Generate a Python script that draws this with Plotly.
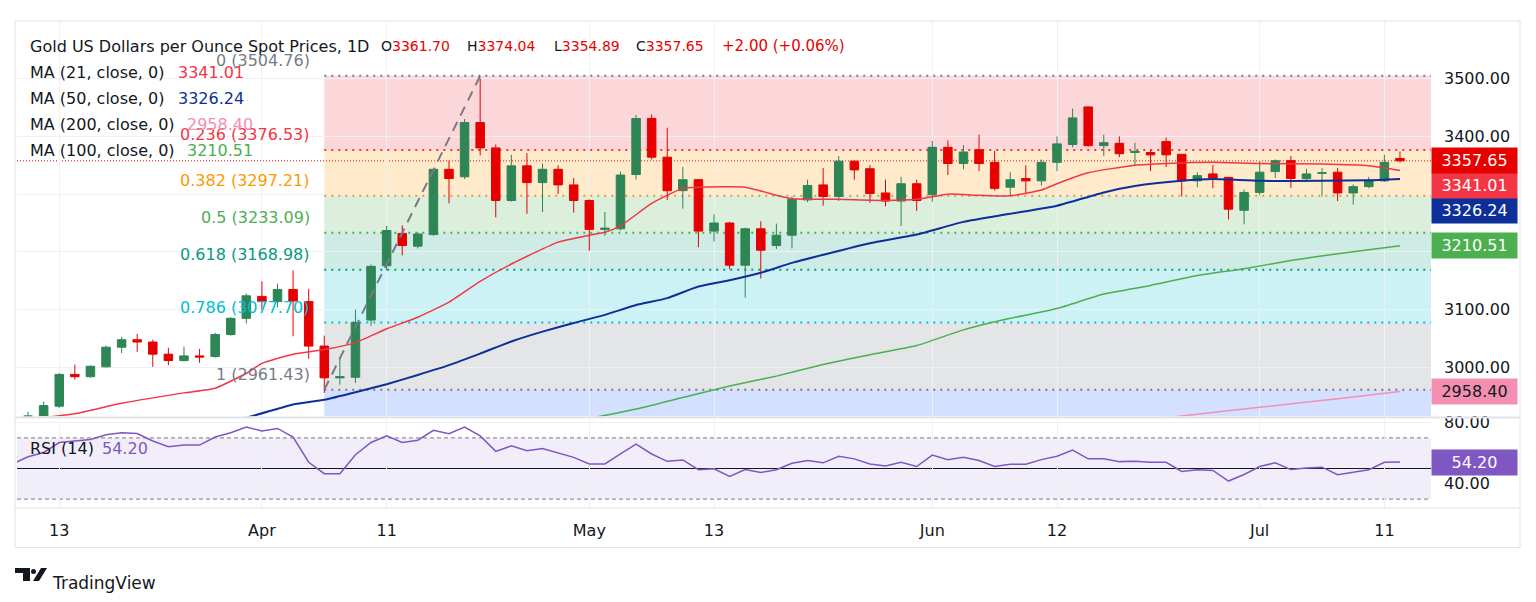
import plotly.graph_objects as go
from plotly.subplots import make_subplots

# ---- data (XAU/USD daily) ----
dates = [
    "2025-03-10", "2025-03-11", "2025-03-12", "2025-03-13", "2025-03-14",
    "2025-03-17", "2025-03-18", "2025-03-19", "2025-03-20", "2025-03-21",
    "2025-03-24", "2025-03-25", "2025-03-26", "2025-03-27", "2025-03-28",
    "2025-03-31", "2025-04-01", "2025-04-02", "2025-04-03", "2025-04-04",
    "2025-04-07", "2025-04-08", "2025-04-09", "2025-04-10", "2025-04-11",
    "2025-04-14", "2025-04-15", "2025-04-16", "2025-04-17", "2025-04-21",
    "2025-04-22", "2025-04-23", "2025-04-24", "2025-04-25", "2025-04-28",
    "2025-04-29", "2025-04-30", "2025-05-01", "2025-05-02", "2025-05-05",
    "2025-05-06", "2025-05-07", "2025-05-08", "2025-05-09", "2025-05-12",
    "2025-05-13", "2025-05-14", "2025-05-15", "2025-05-16", "2025-05-19",
    "2025-05-20", "2025-05-21", "2025-05-22", "2025-05-23", "2025-05-26",
    "2025-05-27", "2025-05-28", "2025-05-29", "2025-05-30", "2025-06-02",
    "2025-06-03", "2025-06-04", "2025-06-05", "2025-06-06", "2025-06-09",
    "2025-06-10", "2025-06-11", "2025-06-12", "2025-06-13", "2025-06-16",
    "2025-06-17", "2025-06-18", "2025-06-19", "2025-06-20", "2025-06-23",
    "2025-06-24", "2025-06-25", "2025-06-26", "2025-06-27", "2025-06-30",
    "2025-07-01", "2025-07-02", "2025-07-03", "2025-07-04", "2025-07-07",
    "2025-07-08", "2025-07-09", "2025-07-10", "2025-07-11", "2025-07-14",
]
opens = [
    2912, 2914, 2916, 2933, 2988, 2984, 3001, 3035, 3048, 3044,
    3023, 3012, 3020, 3019, 3057, 3085, 3123, 3114, 3135, 3114,
    3037, 2982, 2983, 3082, 3176, 3232, 3210, 3230, 3343, 3330,
    3424, 3380, 3289, 3349, 3320, 3343, 3316, 3289, 3239, 3240,
    3334, 3431, 3364, 3306, 3325, 3236, 3250, 3177, 3240, 3211,
    3229, 3290, 3316, 3296, 3357, 3344, 3302, 3288, 3318, 3299,
    3381, 3353, 3377, 3355, 3312, 3327, 3323, 3355, 3386, 3451,
    3384, 3388, 3372, 3372, 3391, 3369, 3323, 3335, 3329, 3272,
    3303, 3339, 3358, 3327, 3336, 3338, 3302, 3313, 3323, 3361.70,
]
highs = [
    2914, 2923, 2941, 2990, 3005, 3004, 3038, 3053, 3058, 3048,
    3034, 3036, 3032, 3060, 3087, 3128, 3149, 3145, 3168, 3136,
    3055, 3017, 3100, 3178, 3245, 3246, 3234, 3344, 3358, 3430,
    3500, 3386, 3368, 3371, 3353, 3350, 3328, 3291, 3269, 3339,
    3437, 3438, 3415, 3347, 3326, 3265, 3252, 3242, 3253, 3249,
    3296, 3325, 3345, 3366, 3359, 3350, 3325, 3330, 3325, 3392,
    3393, 3385, 3403, 3375, 3338, 3350, 3360, 3400, 3448, 3452,
    3403, 3400, 3389, 3377, 3398, 3369, 3338, 3350, 3330, 3308,
    3358, 3360, 3366, 3344, 3345, 3345, 3317, 3330, 3368, 3374.04,
]
lows = [
    2880, 2880, 2905, 2930, 2979, 2982, 3000, 3025, 3027, 3001,
    3004, 3010, 3008, 3017, 3055, 3076, 3100, 3104, 3054, 3015,
    2956, 2970, 2973, 3072, 3168, 3194, 3206, 3228, 3284, 3326,
    3367, 3260, 3287, 3266, 3269, 3300, 3268, 3202, 3228, 3237,
    3325, 3360, 3290, 3275, 3208, 3218, 3170, 3121, 3154, 3205,
    3206, 3286, 3280, 3288, 3325, 3285, 3279, 3245, 3271, 3287,
    3333, 3343, 3340, 3306, 3296, 3301, 3315, 3340, 3381, 3382,
    3366, 3364, 3350, 3340, 3347, 3296, 3312, 3310, 3256, 3248,
    3298, 3328, 3311, 3323, 3296, 3288, 3282, 3310, 3321, 3354.89,
]
closes = [
    2888, 2916, 2934, 2988, 2984, 3002, 3035, 3048, 3044, 3023,
    3012, 3020, 3018, 3057, 3085, 3124, 3114, 3135, 3115, 3037,
    2982, 2984, 3078, 3175, 3237, 3211, 3231, 3343, 3327, 3424,
    3380, 3289, 3349, 3320, 3343, 3316, 3289, 3239, 3241, 3333,
    3431, 3364, 3306, 3325, 3236, 3250, 3177, 3240, 3203, 3229,
    3291, 3315, 3296, 3357, 3342, 3301, 3288, 3318, 3289, 3381,
    3353, 3373, 3353, 3310, 3325, 3323, 3355, 3387, 3432, 3384,
    3389, 3370, 3374, 3368, 3368, 3323, 3332, 3328, 3274, 3303,
    3338, 3358, 3327, 3335, 3337, 3302, 3313, 3324, 3355, 3357.65,
]
rsi = [
    52.9, 57.7, 60.5, 67.0, 68.0, 69.0, 72.0, 73.4, 72.8, 68.0,
    64.2, 65.3, 65.3, 70.6, 73.4, 77.1, 74.5, 76.2, 70.6, 54.1,
    46.6, 46.6, 59.0, 67.0, 71.3, 67.0, 68.5, 75.0, 72.8, 77.1,
    71.3, 61.2, 64.8, 61.6, 63.1, 60.1, 57.3, 53.0, 53.0, 59.5,
    65.9, 59.5, 54.7, 55.6, 49.2, 49.8, 44.8, 49.3, 47.4, 49.2,
    53.4, 55.2, 53.7, 58.0, 56.3, 53.0, 51.7, 54.1, 51.3, 58.8,
    55.8, 57.3, 55.2, 51.3, 52.8, 52.8, 55.8, 58.0, 62.0, 56.3,
    56.3, 54.5, 54.7, 54.1, 54.1, 48.1, 49.2, 48.7, 41.8, 46.1,
    51.3, 53.7, 49.3, 50.4, 50.9, 45.9, 47.6, 49.2, 54.1, 54.2,
]

# moving averages, sampled along the drawn lines (bar index, value)
ma21_idx = [0, 2, 4, 7, 11, 13, 15, 16, 18, 20, 22, 24, 26, 28, 30, 32, 35, 37,
            38, 39, 41, 43, 44, 47, 49, 50, 53, 56, 58, 60, 62, 64, 66, 67, 69,
            72, 74, 77, 80, 84, 87, 89]
ma21_val = [2900, 2913, 2920, 2938, 2956, 2964, 2990, 3007, 3023, 3031, 3043,
            3067, 3087, 3113, 3149, 3179, 3217, 3229, 3234, 3245, 3284, 3310,
            3312, 3312, 3298, 3292, 3291, 3289, 3291, 3300, 3298, 3297, 3307,
            3318, 3337, 3350, 3353, 3355, 3353, 3352, 3349, 3341.01]
ma50_idx = [13, 15, 18, 20, 22, 24, 26, 28, 30, 32, 34, 36, 38, 40, 42, 44, 46,
            48, 50, 52, 55, 58, 61, 64, 67, 70, 72, 75, 77, 80, 84, 87, 89]
ma50_val = [2905, 2913, 2936, 2944, 2957, 2971, 2987, 3004, 3024, 3045, 3062,
            3077, 3091, 3108, 3120, 3140, 3151, 3164, 3181, 3195, 3215, 3230,
            3252, 3266, 3280, 3303, 3314, 3323, 3326, 3323, 3323, 3324, 3326.24]
ma100_idx = [35, 37, 40, 43, 46, 49, 52, 55, 58, 61, 64, 67, 70, 73, 76, 79, 82,
             85, 89]
ma100_val = [2904, 2912, 2928, 2948, 2968, 2985, 3005, 3022, 3038, 3065, 3085,
             3102, 3127, 3142, 3159, 3171, 3185, 3197, 3210.51]
ma200_idx = [72, 75, 80, 85, 89]
ma200_val = [2907, 2916, 2931, 2946, 2958.40]

# header quote of the last bar
ohlc_labels = ["O", "H", "L", "C"]
ohlc_values = ["3361.70", "3374.04", "3354.89", "3357.65"]
change_text = "+2.00 (+0.06%)"

# fibonacci retracement drawn from the Apr 7 low to the Apr 22 high
fib_anchor_dates = ["2025-04-07", "2025-04-22"]
fib_anchor_prices = [2961.43, 3504.76]
fib_ratios = ["0", "0.236", "0.382", "0.5", "0.618", "0.786", "1"]
fib_levels = [3504.76, 3376.53, 3297.21, 3233.09, 3168.98, 3077.70, 2961.43]
fib_ext_level = 2625.58  # 1.618, off the bottom of the pane
fib_line_colors = ["#787b86", "#f23645", "#ff9800", "#4caf50", "#089981",
                   "#00bcd4", "#787b86"]
fib_fill_colors = ["rgba(242,54,69,0.2)", "rgba(255,152,0,0.2)",
                   "rgba(76,175,80,0.2)", "rgba(8,153,129,0.2)",
                   "rgba(0,188,212,0.2)", "rgba(120,123,134,0.2)",
                   "rgba(41,98,255,0.2)"]

tick_dates = ["2025-03-13", "2025-04-01", "2025-04-11", "2025-05-01",
              "2025-05-13", "2025-06-02", "2025-06-12", "2025-07-01",
              "2025-07-11"]
tick_text = ["13", "Apr", "11", "May", "13", "Jun", "12", "Jul", "11"]

price_ticks = [3000, 3100, 3200, 3300, 3400, 3500]
price_tick_text = ["3000.00", "3100.00", "", "", "3400.00", "3500.00"]

FONT = "DejaVu Sans"
FS = 16
TXT = "#131722"
UP = "#2e8555"
DOWN = "#e60000"
GRID = "#eef0f4"
X_RANGE = [0.29, 90.99]

fig = make_subplots(rows=2, cols=1, shared_xaxes=True)

fig.add_trace(go.Candlestick(
    x=dates, open=opens, high=highs, low=lows, close=closes,
    increasing=dict(line=dict(color=UP, width=1), fillcolor=UP),
    decreasing=dict(line=dict(color=DOWN, width=1), fillcolor=DOWN),
    whiskerwidth=0, hoverinfo="skip",
), row=1, col=1)

for idx, val, color, w in [
    (ma200_idx, ma200_val, "#f48fb1", 1.5),
    (ma100_idx, ma100_val, "#4caf50", 1.5),
    (ma50_idx, ma50_val, "#0d2f9a", 2),
    (ma21_idx, ma21_val, "#f23645", 1.5),
]:
    fig.add_trace(go.Scatter(
        x=[dates[i] for i in idx], y=val, mode="lines",
        line=dict(color=color, width=w, shape="spline", smoothing=0.5),
        hoverinfo="skip",
    ), row=1, col=1)

fig.add_trace(go.Scatter(
    x=fib_anchor_dates, y=fib_anchor_prices, mode="lines",
    line=dict(color="#787b86", width=2, dash="10px,7px"), hoverinfo="skip",
), row=1, col=1)

fig.add_trace(go.Scatter(
    x=dates, y=rsi, mode="lines", line=dict(color="#7e57c2", width=1.5),
    hoverinfo="skip",
), row=2, col=1)

# fib bands and levels
fib_start = dates.index(fib_anchor_dates[0])
bounds = fib_levels + [fib_ext_level]
for i, fc in enumerate(fib_fill_colors):
    fig.add_shape(type="rect", xref="x", yref="y", x0=fib_start, x1=X_RANGE[1],
                  y0=bounds[i + 1], y1=bounds[i], fillcolor=fc, line_width=0,
                  layer="below")
for ratio, lvl, lc in zip(fib_ratios, fib_levels, fib_line_colors):
    fig.add_shape(type="line", xref="x", yref="y", x0=fib_start, x1=X_RANGE[1],
                  y0=lvl, y1=lvl, line=dict(color=lc, width=2, dash="2px,5px"),
                  layer="between")
    fig.add_annotation(x=dates[fib_start], y=lvl, xref="x", yref="y",
                       text=f"{ratio} ({lvl:.2f})", showarrow=False,
                       xanchor="right", yanchor="middle", xshift=-12, yshift=15,
                       font=dict(family=FONT, size=FS, color=lc))

# last price line
fig.add_shape(type="line", xref="paper", yref="y", x0=0, x1=1,
              y0=closes[-1], y1=closes[-1],
              line=dict(color=DOWN, width=1, dash="1px,2px"), layer="between")

# RSI band, bounds and midline
fig.add_shape(type="rect", xref="paper", yref="y2", x0=0, x1=1, y0=30, y1=70,
              fillcolor="rgba(126,87,194,0.1)", line_width=0, layer="below")
for lvl in (30, 70):
    fig.add_shape(type="line", xref="paper", yref="y2", x0=0, x1=1,
                  y0=lvl, y1=lvl,
                  line=dict(color="#787b86", width=1, dash="4px,3px"),
                  layer="between")
fig.add_shape(type="line", xref="paper", yref="y2", x0=0, x1=1, y0=50, y1=50,
              line=dict(color="#131722", width=1.2), layer="between")

# frame and pane separators
fig.add_shape(type="rect", xref="paper", yref="paper", x0=-0.0014, x1=1.0630,
              y0=-0.081, y1=1.0, line=dict(color="#e0e3eb", width=1))
fig.add_shape(type="line", xref="paper", yref="paper", x0=-0.0014, x1=1.0630,
              y0=0.1856, y1=0.1856, line=dict(color="#e0e3eb", width=2))
fig.add_shape(type="line", xref="paper", yref="paper", x0=-0.0014, x1=1.0630,
              y0=0, y1=0, line=dict(color="#e0e3eb", width=1))

# legend texts (positions in page pixels; plot area starts at 17, 15)
def label(text, x_px, y_px, color=TXT, size=FS):
    fig.add_annotation(xref="paper", yref="paper", x=0, y=1, xshift=x_px - 17,
                       yshift=15 - y_px, text=text, showarrow=False,
                       xanchor="left", yanchor="middle",
                       font=dict(family=FONT, size=size, color=color))

label("Gold US Dollars per Ounce Spot Prices, 1D", 28, 40)
for letter, value, x_px in zip(ohlc_labels, ohlc_values, [379, 465, 552, 634]):
    label(f"{letter}<span style='color:{DOWN}'>{value}</span>", x_px, 40,
          size=14)
label(change_text, 720, 40, DOWN, 15)
for name, val, color, y, vx in [
    ("MA (21, close, 0)", "3341.01", "#f23645", 66, 176),
    ("MA (50, close, 0)", "3326.24", "#0d2f9a", 92, 176),
    ("MA (200, close, 0)", "2958.40", "#f48fb1", 118, 185),
    ("MA (100, close, 0)", "3210.51", "#4caf50", 144, 185),
]:
    label(name, 28, y)
    label(val, vx, y, color)
label("RSI (14)", 28, 442)
label("54.20", 100, 442, "#7e57c2")

# axis value tags
for val, bg, fg, ys, yr in [
    (ma200_val[-1], "#f48fb1", TXT, 0, "y"),
    (ma100_val[-1], "#4caf50", "white", 0, "y"),
    (ma50_val[-1], "#0d2f9a", "white", -32, "y"),
    (ma21_val[-1], "#f23645", "white", -15, "y"),
    (closes[-1], DOWN, "white", 0, "y"),
    (rsi[-1], "#7e57c2", "white", 0, "y2"),
]:
    fig.add_annotation(xref="paper", yref=yr, x=1, y=val, yshift=ys,
                       text=f"{val:.2f}", showarrow=False, xanchor="left",
                       yanchor="middle", width=79, height=19, borderpad=3,
                       bgcolor=bg, font=dict(family=FONT, size=FS, color=fg))

# TradingView mark
fig.add_shape(type="path", xref="paper", yref="paper", xsizemode="pixel",
              ysizemode="pixel", xanchor=0, yanchor=0,
              path="M -2,-60 L 13,-60 L 13,-73 L 6,-73 L 6,-65 L -2,-65 Z",
              fillcolor=TXT, line_width=0)
fig.add_shape(type="circle", xref="paper", yref="paper", xsizemode="pixel",
              ysizemode="pixel", xanchor=0, yanchor=0, x0=14, x1=19, y0=-61,
              y1=-66, fillcolor=TXT, line_width=0)
fig.add_shape(type="path", xref="paper", yref="paper", xsizemode="pixel",
              ysizemode="pixel", xanchor=0, yanchor=0,
              path="M 16,-73 L 22,-73 L 30,-60 L 24,-60 Z",
              fillcolor=TXT, line_width=0)
label("TradingView", 50, 577, TXT, 17)

axis_common = dict(type="category", categoryorder="array", categoryarray=dates,
                   range=X_RANGE, tickvals=tick_dates, ticktext=tick_text,
                   showgrid=True, gridcolor=GRID, zeroline=False,
                   showline=False, ticks="", rangeslider_visible=False)
fig.update_xaxes(**axis_common)

# the page body adds an 8px margin, so the figure is 16px smaller and the
# margins are trimmed to keep the plot area at the reference pixels
fig.update_layout(
    width=1520, height=586,
    margin=dict(l=9, r=97, t=7, b=86),
    paper_bgcolor="white", plot_bgcolor="white",
    showlegend=False, hovermode=False, boxgap=0.22,
    font=dict(family=FONT, size=FS, color=TXT),
    xaxis=dict(showticklabels=False),
    xaxis2=dict(showticklabels=True, ticklabelstandoff=11,
                tickfont=dict(size=FS, color=TXT)),
    yaxis=dict(domain=[0.1886, 1], range=[2915.7, 3599.7], side="right",
               tickvals=price_ticks, ticktext=price_tick_text, showgrid=True,
               gridcolor=GRID, zeroline=False, ticks="",
               ticklabelstandoff=12, tickfont=dict(size=FS, color=TXT)),
    yaxis2=dict(domain=[0, 0.1826], range=[24.2, 82.3], side="right",
                tickvals=[40, 80], ticktext=["40.00", "80.00"], showgrid=True,
                gridcolor=GRID, zeroline=False, ticks="",
                ticklabelstandoff=12, tickfont=dict(size=FS, color=TXT)),
)

fig.write_html("out.html")
